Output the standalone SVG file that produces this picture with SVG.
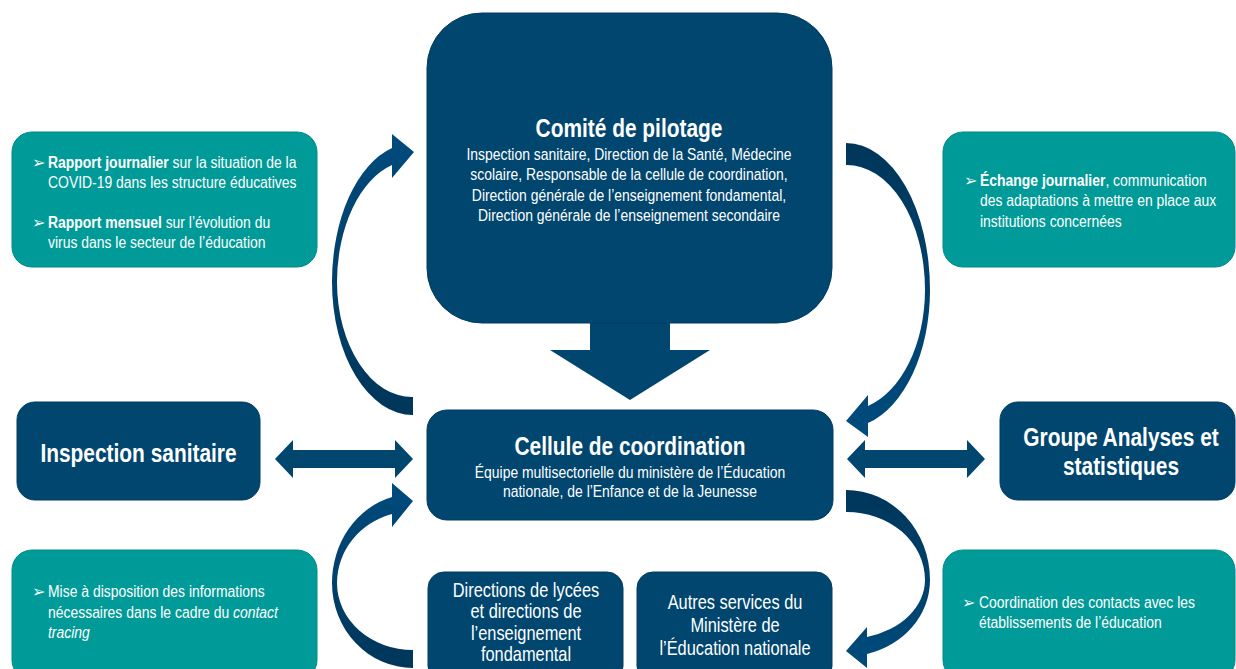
<svg xmlns="http://www.w3.org/2000/svg" width="1236" height="669" viewBox="0 0 1236 669">
<defs>
<linearGradient id="gUp" x1="0" y1="1" x2="0" y2="0"><stop offset="0" stop-color="#00365A"/><stop offset="1" stop-color="#004B7D"/></linearGradient>
<linearGradient id="gDown" x1="0" y1="0" x2="0" y2="1"><stop offset="0" stop-color="#00365A"/><stop offset="1" stop-color="#004B7D"/></linearGradient>
<style>
.navy{fill:#00466F;stroke:#003C61;stroke-width:1}
.teal{fill:#009B98;stroke:#008A87;stroke-width:1}
.t{font-family:"Liberation Sans",Arial,sans-serif;fill:#ffffff;transform-box:fill-box;transform:scale(0.82,1)}
.title{font-size:25.5px;font-weight:bold;text-anchor:middle;transform-origin:center}
.sub{font-size:17px;text-anchor:middle;transform-origin:center}
.body{font-size:17px;transform-origin:left center}
.mid{font-size:20px;text-anchor:middle;transform-origin:center}
.bul{font-family:"DejaVu Sans",sans-serif;font-size:16px;fill:#ffffff}
.arrow{fill:#00466F}
</style>
</defs>
<rect width="1236" height="669" fill="#ffffff"/>

<g id="connectors">
  <path id="down-arrow" class="arrow" d="M590,318 L670,318 L670,350 L710,350 L630,400 L550,350 L590,350 Z"/>
  <path id="arrow-inspection" class="arrow" d="M275,459 L293,440 L293,450 L395,450 L395,440 L413,459 L395,478 L395,468 L293,468 L293,478 Z"/>
  <path id="arrow-groupe" class="arrow" d="M847,459 L865,440 L865,450 L967,450 L967,440 L985,459 L967,478 L967,468 L865,468 L865,478 Z"/>
  <path id="curve-tl" fill="url(#gUp)" d="M413,415 A81,133 0 0 1 332,282 A81,138.7 0 0 1 392,148 L392,134 L414,152 L392,178 L392,165 A75,121.9 0 0 0 337,282 A75,115 0 0 0 413,397 Z"/>
  <path id="curve-tr" fill="url(#gDown)" d="M846,143 A84,147 0 0 1 930,290 A84,137.8 0 0 1 868,423 L868,437 L846,421 L868,395 L868,406 A78,120.9 0 0 0 925,290 A78,125 0 0 0 846,165 Z"/>
  <path id="curve-bl" fill="url(#gUp)" d="M413,668 A81,85 0 0 1 332,583 A81,89 0 0 1 392,497 L392,483 L413,501 L392,527 L392,514 A76,71.9 0 0 0 337,583 A76,67 0 0 0 413,650 Z"/>
  <path id="curve-br" fill="url(#gDown)" d="M846,490 A84,90 0 0 1 930,580 A84,76.4 0 0 1 867,654 L867,668 L846,651 L867,627 L867,637 A78,59.2 0 0 0 925,580 A78,68 0 0 0 846,512 Z"/>
</g>

<g id="comite">
  <rect class="navy" x="427" y="13" width="405" height="310" rx="55" ry="55"/>
  <text class="t title" x="629" y="137">Comité de pilotage</text>
  <text class="t sub" x="629" y="160">Inspection sanitaire, Direction de la Santé, Médecine</text>
  <text class="t sub" x="629" y="180.5">scolaire, Responsable de la cellule de coordination,</text>
  <text class="t sub" x="629" y="201">Direction générale de l’enseignement fondamental,</text>
  <text class="t sub" x="629" y="221.5">Direction générale de l’enseignement secondaire</text>
</g>

<g id="cellule">
  <rect class="navy" x="427" y="410" width="406" height="110" rx="20" ry="20"/>
  <text class="t title" x="630" y="455">Cellule de coordination</text>
  <text class="t sub" x="630" y="478">Équipe multisectorielle du ministère de l’Éducation</text>
  <text class="t sub" x="630" y="497">nationale, de l’Enfance et de la Jeunesse</text>
</g>

<g id="inspection">
  <rect class="navy" x="17" y="402" width="243" height="98" rx="18" ry="18"/>
  <text class="t title" x="138.5" y="462">Inspection sanitaire</text>
</g>

<g id="groupe">
  <rect class="navy" x="1000" y="402" width="235" height="98" rx="18" ry="18"/>
  <text class="t title" x="1121" y="446.5">Groupe Analyses et</text>
  <text class="t title" x="1121" y="475">statistiques</text>
</g>

<g id="directions">
  <rect class="navy" x="428" y="572" width="195" height="110" rx="16" ry="16"/>
  <text class="t mid" x="526" y="597">Directions de lycées</text>
  <text class="t mid" x="526" y="618.5">et directions de</text>
  <text class="t mid" x="526" y="640">l’enseignement</text>
  <text class="t mid" x="526" y="661.5">fondamental</text>
</g>

<g id="autres">
  <rect class="navy" x="637" y="572" width="195" height="110" rx="16" ry="16"/>
  <text class="t mid" x="735" y="609">Autres services du</text>
  <text class="t mid" x="735" y="632">Ministère de</text>
  <text class="t mid" x="735" y="655">l’Éducation nationale</text>
</g>

<g id="note-rapports">
  <rect class="teal" x="12" y="132" width="305" height="135" rx="20" ry="20"/>
  <text class="bul" x="32" y="168">➢</text>
  <text class="t body" x="48" y="168"><tspan font-weight="bold">Rapport journalier</tspan> sur la situation de la</text>
  <text class="t body" x="48" y="188">COVID-19 dans les structure éducatives</text>
  <text class="bul" x="32" y="228">➢</text>
  <text class="t body" x="48" y="228"><tspan font-weight="bold">Rapport mensuel</tspan> sur l’évolution du</text>
  <text class="t body" x="48" y="248">virus dans le secteur de l’éducation</text>
</g>

<g id="note-echange">
  <rect class="teal" x="943" y="132" width="292" height="135" rx="20" ry="20"/>
  <text class="bul" x="964" y="186">➢</text>
  <text class="t body" x="980" y="186"><tspan font-weight="bold">Échange journalier</tspan>, communication</text>
  <text class="t body" x="980" y="206.5">des adaptations à mettre en place aux</text>
  <text class="t body" x="980" y="227">institutions concernées</text>
</g>

<g id="note-contact">
  <rect class="teal" x="12" y="550" width="305" height="130" rx="20" ry="20"/>
  <text class="bul" x="32" y="597">➢</text>
  <text class="t body" x="48" y="597">Mise à disposition des informations</text>
  <text class="t body" x="48" y="618">nécessaires dans le cadre du <tspan font-style="italic">contact</tspan></text>
  <text class="t body" x="48" y="638"><tspan font-style="italic">tracing</tspan></text>
</g>

<g id="note-coordination">
  <rect class="teal" x="943" y="550" width="292" height="130" rx="20" ry="20"/>
  <text class="bul" x="962" y="608">➢</text>
  <text class="t body" x="979" y="608">Coordination des contacts avec les</text>
  <text class="t body" x="979" y="628">établissements de l’éducation</text>
</g>
</svg>
